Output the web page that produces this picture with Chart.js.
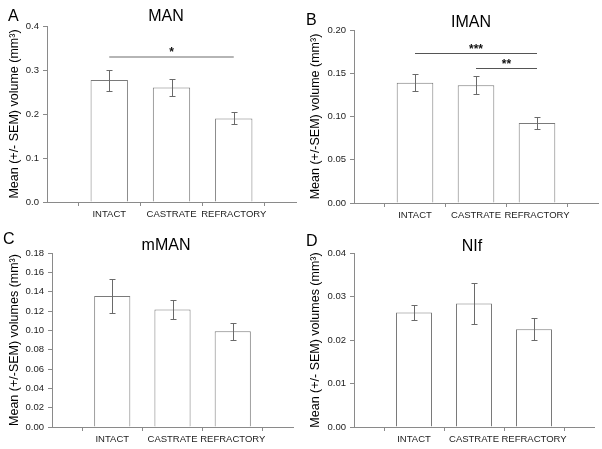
<!DOCTYPE html>
<html>
<head>
<meta charset="utf-8">
<script src="https://cdn.jsdelivr.net/npm/chart.js@4/dist/chart.umd.min.js"></script>
<style>
  html, body { margin: 0; padding: 0; background: #fff; }
  #wrap { position: relative; width: 602px; height: 449px; overflow: hidden; }
  canvas { position: absolute; }
</style>
</head>
<body>
<div id="wrap">
  <canvas id="cA" width="301" height="225" style="left:0;top:0"></canvas>
  <canvas id="cB" width="301" height="225" style="left:301px;top:0"></canvas>
  <canvas id="cC" width="301" height="224" style="left:0;top:225px"></canvas>
  <canvas id="cD" width="301" height="224" style="left:301px;top:225px"></canvas>
</div>
<script>
// ---- data ----
const categories = ['INTACT', 'CASTRATE', 'REFRACTORY'];

const manMeans  = [0.277, 0.260, 0.190];
const manSem    = [0.024, 0.019, 0.0135];
const imanMeans = [0.139, 0.136, 0.0925];
const imanSem   = [0.010, 0.0105, 0.007];
const mmanMeans = [0.1355, 0.1215, 0.099];
const mmanSem   = [0.018, 0.010, 0.009];
const nifMeans  = [0.0263, 0.0284, 0.0225];
const nifSem    = [0.0018, 0.0047, 0.0025];

const manTicks  = { max: 0.4,  step: 0.1,  decimals: 1 };
const imanTicks = { max: 0.20, step: 0.05, decimals: 2 };
const mmanTicks = { max: 0.18, step: 0.02, decimals: 2 };
const nifTicks  = { max: 0.04, step: 0.01, decimals: 2 };

// significance brackets: [fromCategory, toCategory, yValue, label]
const manSig  = [[0, 2, 0.330, '*']];
const imanSig = [[0, 2, 0.1738, '***'], [1, 2, 0.1557, '**']];

const FONT = "'Liberation Sans', Arial, sans-serif";
const AXIS = '#8a8a8a';

// error bars
const errorBarPlugin = {
  id: 'errorBars',
  afterDatasetsDraw(chart, args, opts) {
    const { ctx } = chart;
    const xs = chart.scales.x, ys = chart.scales.y;
    ctx.save();
    ctx.strokeStyle = '#6a6a6a';
    ctx.lineWidth = 1;
    opts.means.forEach((m, i) => {
      const x = Math.round(xs.getPixelForValue(i + 1)) + 0.5;
      const yt = Math.round(ys.getPixelForValue(m + opts.sem[i])) + 0.5;
      const yb = Math.round(ys.getPixelForValue(m - opts.sem[i])) + 0.5;
      ctx.beginPath();
      ctx.moveTo(x, yt); ctx.lineTo(x, yb);
      ctx.moveTo(x - 3, yt); ctx.lineTo(x + 3, yt);
      ctx.moveTo(x - 3, yb); ctx.lineTo(x + 3, yb);
      ctx.stroke();
    });
    ctx.restore();
  }
};

// significance lines
const sigPlugin = {
  id: 'sig',
  afterDatasetsDraw(chart, args, opts) {
    if (!opts.items) return;
    const { ctx } = chart;
    const xs = chart.scales.x, ys = chart.scales.y;
    ctx.save();
    opts.items.forEach(([a, b, v, lab]) => {
      const x1 = xs.getPixelForValue(a + 1), x2 = xs.getPixelForValue(b + 1);
      const y = Math.round(ys.getPixelForValue(v)) + (opts.width === 1 ? 0.5 : 0);
      ctx.strokeStyle = opts.color;
      ctx.lineWidth = opts.width;
      ctx.beginPath(); ctx.moveTo(x1, y); ctx.lineTo(x2, y); ctx.stroke();
      ctx.fillStyle = '#111';
      ctx.font = 'bold 12px ' + FONT;
      ctx.textAlign = 'center';
      ctx.textBaseline = 'alphabetic';
      ctx.fillText(lab, (x1 + x2) / 2, y - 1);
    });
    ctx.restore();
  }
};

// panel letter + title text
const labelPlugin = {
  id: 'panelLabels',
  afterDraw(chart, args, opts) {
    const { ctx } = chart;
    ctx.save();
    ctx.fillStyle = '#000';
    ctx.textBaseline = 'alphabetic';
    ctx.font = '16px ' + FONT;
    ctx.textAlign = 'left';
    ctx.fillText(opts.letter, opts.letterX, opts.letterY);
    ctx.textAlign = 'center';
    ctx.fillText(opts.title, opts.titleX, opts.titleY);
    ctx.restore();
  }
};

function makeChart(id, means, sem, tk, yTitle, area, labels, sig) {
  const canvas = document.getElementById(id);
  const W = canvas.width, H = canvas.height;
  return new Chart(canvas, {
    type: 'bar',
    data: {
      labels: ['', ...categories, ''],
      datasets: [{
        data: [null, ...means, null],
        backgroundColor: '#ffffff',
        borderColor: '#7a7a7a',
        borderWidth: 1,
        categoryPercentage: 1,
        barPercentage: 0.6
      }]
    },
    options: {
      responsive: false,
      animation: false,
      devicePixelRatio: 1,
      layout: { padding: { top: area.top, right: W - area.right, left: 0, bottom: 0 } },
      plugins: {
        legend: { display: false },
        tooltip: { enabled: false },
        errorBars: { means, sem },
        sig: sig || {},
        panelLabels: labels
      },
      scales: {
        x: {
          type: 'category',
          offset: false,
          afterFit(s) { s.height = H - area.bottom; },
          grid: { drawOnChartArea: false, drawTicks: true, tickLength: 4, color: AXIS },
          border: { color: AXIS, width: 1 },
          ticks: { font: { family: FONT, size: 9.5 }, color: '#222', padding: 3, maxRotation: 0, autoSkip: false }
        },
        y: {
          min: 0, max: tk.max,
          afterFit(s) { s.width = area.left; },
          grid: { drawOnChartArea: false, drawTicks: true, tickLength: 4, color: AXIS },
          border: { color: AXIS, width: 1 },
          ticks: {
            stepSize: tk.step,
            font: { family: FONT, size: 9.5 },
            color: '#222',
            padding: 4,
            callback: v => Number(v).toFixed(tk.decimals)
          },
          title: {
            display: true,
            text: yTitle,
            font: { family: FONT, size: 12.5 },
            color: '#000',
            padding: { top: 7, bottom: 0 }
          }
        }
      }
    },
    plugins: [errorBarPlugin, sigPlugin, labelPlugin]
  });
}

makeChart('cA', manMeans, manSem, manTicks, 'Mean (+/- SEM) volume (mm³)',
  { left: 47, right: 296, top: 26, bottom: 202 },
  { letter: 'A', letterX: 8, letterY: 21, title: 'MAN', titleX: 166, titleY: 21 },
  { items: manSig, color: '#b5b5b5', width: 2 });

makeChart('cB', imanMeans, imanSem, imanTicks, 'Mean (+/-SEM) volume (mm³)',
  { left: 53, right: 297, top: 30, bottom: 203 },
  { letter: 'B', letterX: 5, letterY: 25, title: 'IMAN', titleX: 170, titleY: 27 },
  { items: imanSig, color: '#555555', width: 1 });

makeChart('cC', mmanMeans, mmanSem, mmanTicks, 'Mean (+/-SEM) volumes (mm³)',
  { left: 52, right: 293, top: 28, bottom: 202 },
  { letter: 'C', letterX: 3, letterY: 19, title: 'mMAN', titleX: 166, titleY: 25 },
  null);

makeChart('cD', nifMeans, nifSem, nifTicks, 'Mean (+/- SEM) volumes (mm³)',
  { left: 53, right: 293, top: 28, bottom: 202 },
  { letter: 'D', letterX: 5, letterY: 21, title: 'NIf', titleX: 171, titleY: 26 },
  null);
</script>
</body>
</html>
